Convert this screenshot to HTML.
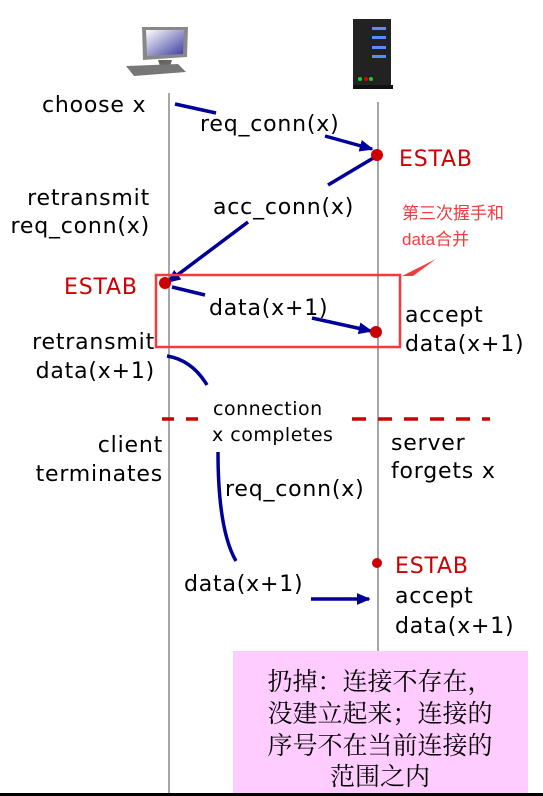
<!DOCTYPE html>
<html><head><meta charset="utf-8"><style>
html,body{margin:0;padding:0;background:#fff;}
svg{display:block;}
text{font-family:"DejaVu Sans","Liberation Sans",sans-serif;font-size:22px;letter-spacing:0.8px;fill:#000;}
.r{fill:#cc0000;}
.cn{font-family:"Liberation Serif","Noto Serif CJK SC",serif;font-size:25px;letter-spacing:0;}
</style></head><body>
<svg width="543" height="796" viewBox="0 0 543 796" xmlns="http://www.w3.org/2000/svg">
<defs>
<marker id="ah" markerWidth="4" markerHeight="4" refX="3.5" refY="2" orient="auto" markerUnits="strokeWidth"><path d="M0,0.3 L4,2 L0,3.7 Z" fill="#000099"/></marker>
<linearGradient id="scr" x1="0" y1="0" x2="1" y2="1"><stop offset="0" stop-color="#fff"/><stop offset="1" stop-color="#3a3aa0"/></linearGradient>
</defs>
<path d="M142,27 L188,27 L187,57 L143,60 Z" fill="#888"/>
<path d="M146,30 L184,30 L183,54 L147,56 Z" fill="url(#scr)"/>
<path d="M158,60 L172,60 L170,66 L160,66 Z" fill="#666"/>
<path d="M126,66 L178,64 L186,72 L134,76 Z" fill="#777"/>
<rect x="353" y="19" width="38" height="68" fill="#222"/>
<rect x="353" y="85" width="40" height="4" fill="#111"/>
<rect x="372" y="27" width="14" height="3" fill="#5a8cff"/>
<rect x="372" y="36" width="14" height="3" fill="#5a8cff"/>
<rect x="372" y="46" width="14" height="3" fill="#5a8cff"/>
<rect x="372" y="55" width="14" height="3" fill="#5a8cff"/>
<circle cx="360" cy="79" r="2" fill="#2c2"/><circle cx="366" cy="79" r="2" fill="#d00"/><circle cx="371" cy="79" r="2" fill="#2c2"/>
<line x1="169" y1="93" x2="169" y2="796" stroke="#888" stroke-width="1.5"/>
<line x1="378" y1="102" x2="378" y2="796" stroke="#888" stroke-width="1.5"/>
<rect x="233" y="651" width="295" height="142" fill="#ffccff"/>
<rect x="0" y="793" width="543" height="3" fill="#000"/>
<g stroke="#000099" stroke-width="3.5" fill="none">
<line x1="175" y1="104" x2="216" y2="113"/>
<line x1="325" y1="136" x2="372" y2="149" marker-end="url(#ah)"/>
<line x1="375" y1="157" x2="328" y2="185"/>
<line x1="248" y1="222" x2="168" y2="282" marker-end="url(#ah)"/>
<line x1="172" y1="287" x2="205" y2="295"/>
<line x1="312" y1="318" x2="371" y2="331" marker-end="url(#ah)"/>
<path d="M167,356 Q192,360 207,385"/>
<path d="M218,452 Q218,530 236,561"/>
<line x1="311" y1="599" x2="369" y2="599" marker-end="url(#ah)"/>
</g>
<circle cx="377" cy="155" r="6" fill="#cc0000"/>
<circle cx="165" cy="283" r="6" fill="#cc0000"/>
<circle cx="376" cy="332" r="6" fill="#cc0000"/>
<circle cx="377" cy="563" r="5" fill="#cc0000"/>
<rect x="156" y="275" width="244" height="72" fill="none" stroke="#f03c3c" stroke-width="2.5"/>
<path d="M402,276 L436,259 L413,276 Z" fill="#f03c3c"/>
<line x1="162" y1="419" x2="205" y2="419" stroke="#cc0000" stroke-width="3.5" stroke-dasharray="12,12"/>
<line x1="352" y1="419" x2="490" y2="419" stroke="#cc0000" stroke-width="3.5" stroke-dasharray="14,12"/>
<text x="42" y="112">choose x</text>
<text x="200" y="131">req_conn(x)</text>
<text x="399" y="166" class="r">ESTAB</text>
<text x="150" y="205" text-anchor="end">retransmit</text>
<text x="150" y="233" text-anchor="end">req_conn(x)</text>
<text x="213" y="214">acc_conn(x)</text>
<text x="402" y="219" style="font-size:17px;letter-spacing:0;fill:#f03c3c;font-family:'Liberation Sans','Noto Sans CJK SC',sans-serif">第三次握手和</text>
<text x="402" y="245" style="font-size:17px;letter-spacing:0;fill:#f03c3c;font-family:'Liberation Sans','Noto Sans CJK SC',sans-serif">data合并</text>
<text x="64" y="294" class="r">ESTAB</text>
<text x="209" y="315">data(x+1)</text>
<text x="405" y="322">accept</text>
<text x="405" y="351">data(x+1)</text>
<text x="155" y="349" text-anchor="end">retransmit</text>
<text x="155" y="378" text-anchor="end">data(x+1)</text>
<text x="213" y="415" style="font-size:19px;letter-spacing:0.5px">connection</text>
<text x="212" y="441" style="font-size:19px;letter-spacing:0.5px">x completes</text>
<text x="163" y="452" text-anchor="end">client</text>
<text x="163" y="481" text-anchor="end">terminates</text>
<text x="391" y="450">server</text>
<text x="391" y="478">forgets x</text>
<text x="225" y="496">req_conn(x)</text>
<text x="395" y="573" class="r">ESTAB</text>
<text x="184" y="591">data(x+1)</text>
<text x="395" y="603">accept</text>
<text x="395" y="633">data(x+1)</text>
<text x="380" y="690" text-anchor="middle" class="cn">扔掉：连接不存在，</text>
<text x="380" y="722" text-anchor="middle" class="cn">没建立起来；连接的</text>
<text x="380" y="754" text-anchor="middle" class="cn">序号不在当前连接的</text>
<text x="380" y="785" text-anchor="middle" class="cn">范围之内</text>
</svg>
</body></html>
